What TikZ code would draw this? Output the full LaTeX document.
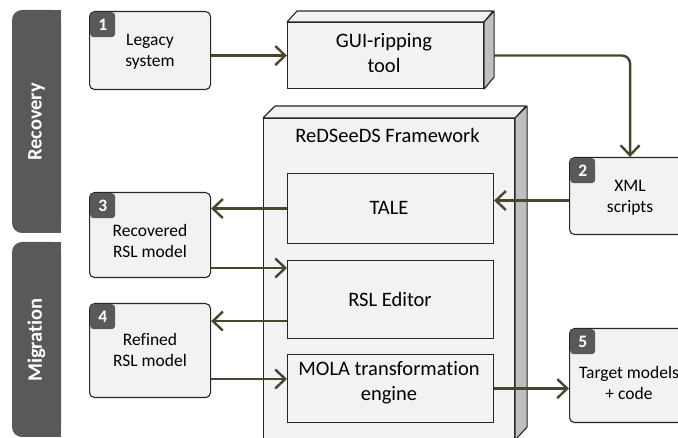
\documentclass[tikz,border=0pt]{standalone}
\usepackage{fontspec}
\setmainfont{Carlito}[Ligatures=NoCommon]
\usetikzlibrary{arrows.meta,calc}
\definecolor{boxfill}{HTML}{F2F2F2}
\definecolor{darkg}{HTML}{595959}
\definecolor{sidec}{HTML}{BFBFBF}
\definecolor{arrc}{HTML}{4A4531}
\definecolor{edgec}{HTML}{262626}
\begin{document}
\begin{tikzpicture}[x=1pt,y=-1pt,
  stepbox/.style={draw=edgec, line width=1.1pt, fill=boxfill, rounded corners=5pt, minimum width=121pt, anchor=north west, inner sep=0pt},
  plainbox/.style={draw=edgec, line width=1.1pt, fill=boxfill, anchor=north west, inner sep=0pt},
  facetop/.style={draw=edgec, line width=1.1pt, fill=boxfill, line join=round},
  faceside/.style={draw=edgec, line width=1.1pt, fill=sidec, line join=round},
  badge/.style={fill=darkg, rounded corners=3.5pt, minimum width=25pt, minimum height=25pt, inner sep=0pt, text=white, font=\bfseries\fontsize{17.5}{17.5}\selectfont, anchor=north west},
  lbl/.style={align=center, font=\fontsize{17.5}{21}\selectfont, inner sep=0pt},
  biglbl/.style={align=center, font=\fontsize{20.5}{25}\selectfont, inner sep=0pt},
  bandtxt/.style={rotate=90, text=white, font=\bfseries\fontsize{20.5}{20.5}\selectfont, inner sep=0pt},
  arr/.style={draw=arrc, line width=2.4pt, -{Straight Barb[length=10pt,width=19pt]}}
]
\useasboundingbox (0,0) rectangle (678,438);
\clip (0,0) rectangle (678,438);

% phase bands
\fill[darkg, rounded corners=10pt] (12,10) rectangle (61,233);
\fill[darkg] (40,10) rectangle (61,233);
\fill[darkg, rounded corners=10pt] (12,242) rectangle (61,437);
\fill[darkg] (40,242) rectangle (61,437);
\node[bandtxt] (rec) at (36.5,122) {Recovery};
\node[bandtxt] (mig) at (36.5,340) {Migration};

% GUI-ripping tool (3D box)
\node[plainbox, minimum width=196pt, minimum height=66pt] (gui) at (287,22) {};
\draw[facetop] (gui.north west) -- ++(10,-11) -- ++(196,0) -- (gui.north east) -- cycle;
\draw[faceside] (gui.north east) -- ++(10,-11) -- ++(0,66) -- (gui.south east) -- cycle;
\node[biglbl] (guit) at (384,53) {GUI-ripping\\tool};

% ReDSeeDS framework (3D box)
\node[plainbox, minimum width=251pt, minimum height=321pt] (fw) at (263,118) {};
\draw[facetop] (fw.north west) -- ++(12,-12) -- ++(251,0) -- (fw.north east) -- cycle;
\draw[faceside] (fw.north east) -- ++(12,-12) -- ++(0,321) -- (fw.south east) -- cycle;
\node[biglbl] (fwt) at (387.5,135) {ReDSeeDS Framework};

% inner components
\node[plainbox, minimum width=206pt, minimum height=70pt] (tale) at (287,173) {};
\node[biglbl] (talet) at (389,208) {TALE};
\node[plainbox, minimum width=206pt, minimum height=78pt] (rsl) at (287,260) {};
\node[biglbl] (rslt) at (390,299) {RSL Editor};
\node[plainbox, minimum width=206pt, minimum height=68pt] (mola) at (287,354) {};
\node[biglbl] (molat) at (389,383) {MOLA transformation\\engine};

% artefact boxes
\node[stepbox, minimum height=78pt] (b1) at (89,11) {};
\node[badge] (n1) at (90,12) {1};
\node[lbl] (t1) at (150,52) {Legacy\\system};

\node[stepbox, minimum height=77pt] (b2) at (569,157) {};
\node[badge] (n2) at (570,158) {2};
\node[lbl] (t2) at (630,198) {XML\\scripts};

\node[stepbox, minimum height=85pt] (b3) at (89,192) {};
\node[badge] (n3) at (90,193) {3};
\node[lbl] (t3) at (150,241) {Recovered\\RSL model};

\node[stepbox, minimum height=94pt] (b4) at (89,303) {};
\node[badge] (n4) at (90,304) {4};
\node[lbl] (t4) at (150,350) {Refined\\RSL model};

\node[stepbox, minimum height=94pt] (b5) at (569,328) {};
\node[badge] (n5) at (570,329) {5};
\node[lbl] (t5) at (629,383) {Target models\\+ code};

% connectors
\draw[arr] (b1.east |- gui.west) -- (gui.west);
\coordinate (g1) at ($(gui.east)+(10,0)$);
\draw[arr, rounded corners=8pt] (g1) -| (b2.north);
\coordinate (p2) at ($(b2.west)+(0,4.5)$);
\draw[arr] (p2) -- (p2 -| tale.east);
\draw[arr] (tale.west) -- (tale.west -| b3.east);
\coordinate (p3) at ($(rsl.north west)+(0,8)$);
\draw[arr] (p3 -| b3.east) -- (p3);
\coordinate (p4) at ($(rsl.south west)+(0,-18)$);
\draw[arr] (p4) -- (p4 -| b4.east);
\coordinate (p5) at ($(mola.north west)+(0,25)$);
\draw[arr] (p5 -| b4.east) -- (p5);
\draw[arr] (mola.east) -- (mola.east -| b5.west);
\end{tikzpicture}
\end{document}
